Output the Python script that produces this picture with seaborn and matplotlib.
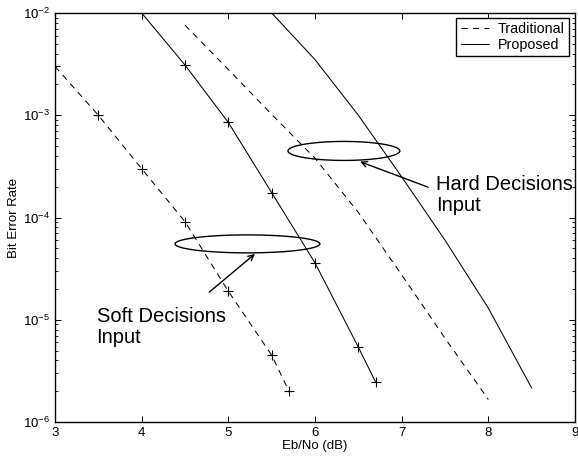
import numpy as np
import pandas as pd
import matplotlib
matplotlib.use("Agg")
import matplotlib.pyplot as plt
import seaborn as sns

# ---- data ----
soft_trad_x = [3.0, 3.5, 4.0, 4.5, 5.0, 5.5, 5.7]
soft_trad_y = [3.0e-3, 1.0e-3, 3.0e-4, 9.1e-5, 1.9e-5, 4.5e-6, 2.0e-6]

soft_prop_x = [4.0, 4.5, 5.0, 5.5, 6.0, 6.5, 6.7]
soft_prop_y = [1.0e-2, 3.1e-3, 8.5e-4, 1.75e-4, 3.6e-5, 5.4e-6, 2.45e-6]

hard_trad_x = [4.5, 5.0, 5.5, 6.0, 6.5, 7.0, 7.5, 8.0]
hard_trad_y = [7.6e-3, 2.8e-3, 1.02e-3, 3.8e-4, 1.12e-4, 2.75e-5, 6.6e-6, 1.66e-6]

hard_prop_x = [5.5, 6.0, 6.5, 7.0, 7.5, 8.0, 8.5]
hard_prop_y = [1.0e-2, 3.5e-3, 1.0e-3, 2.5e-4, 6.0e-5, 1.3e-5, 2.15e-6]

legend_labels = ["Traditional", "Proposed"]
x_ticks = [3, 4, 5, 6, 7, 8, 9]

sns.set_style("ticks")
plt.rcParams["font.family"] = ["Liberation Sans", "DejaVu Sans"]
plt.rcParams["mathtext.fontset"] = "custom"
plt.rcParams["mathtext.rm"] = "Liberation Sans"
plt.rcParams["mathtext.it"] = "Liberation Sans:italic"
plt.rcParams["mathtext.bf"] = "Liberation Sans:bold"
for k in ["text.color", "axes.labelcolor", "xtick.color", "ytick.color",
          "axes.edgecolor"]:
    plt.rcParams[k] = "black"

fig = plt.figure(figsize=(5.78, 4.59), dpi=100)
ax = fig.add_axes([55 / 578, 37 / 459, 520 / 578, 409 / 459])

dash = (0, (6, 5))
lw = 0.75
common = dict(ax=ax, color="black", linewidth=lw, estimator=None, sort=False)

sns.lineplot(x=soft_trad_x, y=soft_trad_y, linestyle=dash, marker="+",
             markersize=6.5, markeredgewidth=0.8, markeredgecolor="black", **common)
sns.lineplot(x=soft_prop_x, y=soft_prop_y, linestyle="-", marker="+",
             markersize=6.5, markeredgewidth=0.8, markeredgecolor="black", **common)
sns.lineplot(x=hard_trad_x, y=hard_trad_y, linestyle=dash, label=legend_labels[0], **common)
sns.lineplot(x=hard_prop_x, y=hard_prop_y, linestyle="-", label=legend_labels[1], **common)

ax.set_yscale("log")
ax.set_xlim(3, 9)
ax.set_ylim(1e-6, 1e-2)
ax.set_xticks(x_ticks)
ax.set_xticklabels([str(t) for t in x_ticks])

ax.set_xlabel("Eb/No (dB)", fontsize=9.5, labelpad=1)
ax.set_ylabel("Bit Error Rate", fontsize=9.5, labelpad=2)

ax.tick_params(which="both", direction="in", top=True, right=True,
               labelsize=9.5, color="black", labelcolor="black")
ax.tick_params(which="major", length=4, width=0.7)
ax.tick_params(which="minor", length=2.2, width=0.6)
ax.tick_params(axis="x", which="minor", top=False, bottom=False)
for s in ax.spines.values():
    s.set_linewidth(1.0)
    s.set_color("black")

# ---- annotation ellipses ----
t = np.linspace(0, 2 * np.pi, 200)
def draw_ellipse(cx, cy_log, a, b_log):
    ax.plot(cx + a * np.cos(t), 10 ** (cy_log + b_log * np.sin(t)),
            color="black", linewidth=1.0)

draw_ellipse(6.333, -3.349, 0.645, 0.093)
draw_ellipse(5.22, -4.258, 0.835, 0.088)

ax.annotate("", xy=(6.52, 10 ** -3.454), xytext=(7.306, 10 ** -3.704),
            arrowprops=dict(arrowstyle="->", color="black", lw=1.0,
                            shrinkA=0, shrinkB=0))
ax.annotate("", xy=(5.307, 10 ** -4.356), xytext=(4.78, 10 ** -4.730),
            arrowprops=dict(arrowstyle="->", color="black", lw=1.0,
                            shrinkA=0, shrinkB=0))

ax.text(7.40, 10 ** -3.779, "Hard Decisions\nInput", fontsize=14.5,
        ha="left", va="center", linespacing=1.15, clip_on=False, color="black")
ax.text(3.48, 10 ** -5.07, "Soft Decisions\nInput", fontsize=14.5,
        ha="left", va="center", linespacing=1.15, color="black")

leg = ax.legend(loc="upper right", bbox_to_anchor=(1 - 6 / 520, 1 - 5 / 409),
                borderaxespad=0, fontsize=10.3, frameon=True, fancybox=False,
                handlelength=2.0, handletextpad=0.6, labelspacing=0.12,
                borderpad=0.3, edgecolor="black", framealpha=1)
leg.get_frame().set_linewidth(1.0)
for txt in leg.get_texts():
    txt.set_color("black")

fig.savefig("out.png", dpi=100)
